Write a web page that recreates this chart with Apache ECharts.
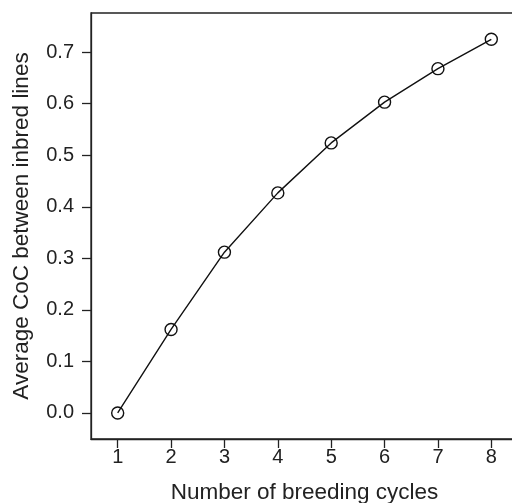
<!DOCTYPE html>
<html>
<head>
<meta charset="utf-8">
<script src="https://cdn.jsdelivr.net/npm/echarts@6/dist/echarts.min.js"></script>
<style>html,body{margin:0;padding:0;background:#fff;}#c{width:512px;height:503px;}</style>
</head>
<body>
<div id="c"></div>
<script>
const cycles = [1, 2, 3, 4, 5, 6, 7, 8];
const avgCoC = [0.0, 0.162, 0.312, 0.427, 0.524, 0.603, 0.668, 0.725];
const xTicks = [1, 2, 3, 4, 5, 6, 7, 8];
const yTicks = [0.0, 0.1, 0.2, 0.3, 0.4, 0.5, 0.6, 0.7];

const chart = echarts.init(document.getElementById('c'), null, {renderer: 'canvas'});
const font = 'Liberation Sans, Arial, Helvetica, sans-serif';
chart.setOption({
  animation: false,
  backgroundColor: '#fff',
  grid: {left: 91, top: 13, width: 427, height: 426, show: true, borderColor: '#222', borderWidth: 1.3, containLabel: false, outerBoundsMode: 'none'},
  xAxis: {
    type: 'value', min: 0.5, max: 8.5,
    name: 'Number of breeding cycles', nameLocation: 'middle', nameGap: 42,
    nameTextStyle: {fontFamily: font, fontSize: 22.5, color: '#222'},
    axisLine: {show: true, onZero: false, lineStyle: {color: '#222', width: 1.3}},
    axisTick: {show: true, inside: false, length: 9, customValues: xTicks, lineStyle: {color: '#222', width: 1.3}},
    axisLabel: {customValues: xTicks, margin: 8, fontFamily: font, fontSize: 20, color: '#222', formatter: v => String(v)},
    splitLine: {show: false}
  },
  yAxis: {
    type: 'value', min: -0.0505, max: 0.776,
    name: 'Average CoC between inbred lines', nameLocation: 'middle', nameGap: 58,
    nameTextStyle: {fontFamily: font, fontSize: 22.5, color: '#222'},
    axisLine: {show: true, onZero: false, lineStyle: {color: '#222', width: 1.3}},
    axisTick: {show: true, inside: false, length: 9, customValues: yTicks, lineStyle: {color: '#222', width: 1.3}},
    axisLabel: {customValues: yTicks, margin: 17, fontFamily: font, fontSize: 20, color: '#222', formatter: v => v.toFixed(1)},
    splitLine: {show: false}
  },
  series: [{
    type: 'line',
    data: cycles.map((c, i) => [c, avgCoC[i]]),
    symbol: 'circle', symbolSize: 12, showAllSymbol: true,
    itemStyle: {color: 'transparent', borderColor: '#111', borderWidth: 1.4},
    lineStyle: {color: '#111', width: 1.4},
    emphasis: {disabled: true}
  }]
});
</script>
</body>
</html>
